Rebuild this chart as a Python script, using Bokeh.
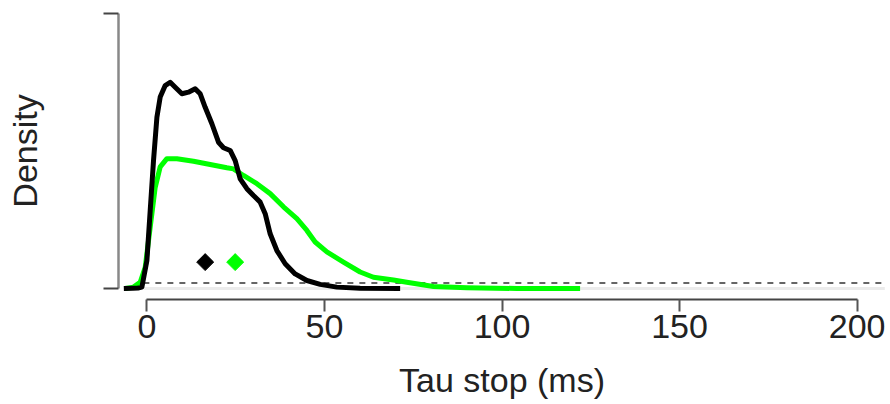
import numpy as np
from bokeh.plotting import figure
from bokeh.models import FixedTicker, Range1d, ColumnDataSource
from bokeh.embed import file_html
from bokeh.resources import INLINE

# Black density curve (Tau stop, ms) - relative density units
black_x = [-6.5, -4.0, -2.5, -1.41, 0.0, 0.93, 1.86, 2.82, 3.74, 5.15, 6.56, 7.97, 9.85,
           11.71, 13.60, 15.01, 16.41, 18.30, 20.16, 21.57, 23.45, 24.86, 26.27,
           28.15, 30.01, 31.90, 33.31, 34.71, 36.60, 38.94, 41.75, 45.05, 48.79,
           53.49, 60.05, 71.32]
black_y = [0.0, 0.001, 0.002, 0.005, 0.102, 0.284, 0.465, 0.623, 0.696, 0.738, 0.750,
           0.732, 0.708, 0.714, 0.726, 0.708, 0.659, 0.599, 0.532, 0.512, 0.502,
           0.465, 0.399, 0.363, 0.338, 0.314, 0.272, 0.199, 0.138, 0.090, 0.053,
           0.029, 0.015, 0.005, 0.001, 0.0]

# Green density curve
green_x = [-6.11, -3.77, -1.89, -0.48, 0.93, 2.34, 3.74, 5.63, 8.45, 13.12, 17.82,
           22.52, 24.38, 27.20, 30.97, 34.71, 38.46, 42.23, 45.05, 47.38, 50.68,
           55.35, 60.05, 63.80, 69.43, 73.20, 80.69, 90.09, 104.17, 121.99]
green_y = [0.0, 0.005, 0.023, 0.077, 0.223, 0.368, 0.442, 0.472, 0.472, 0.463, 0.451,
           0.439, 0.435, 0.411, 0.381, 0.345, 0.297, 0.254, 0.211, 0.169, 0.133,
           0.096, 0.060, 0.041, 0.031, 0.023, 0.007, 0.003, 0.0, 0.0]

# Means (diamonds)
mean_x = [16.41, 24.86]
mean_y = [0.096, 0.096]
mean_colors = ["#000000", "#00ff00"]

threshold_y = 0.02
x_ticks = [0, 50, 100, 150, 200]

p = figure(width=890, height=404, output_backend="svg", toolbar_location=None,
           x_range=Range1d(-8, 208), y_range=Range1d(-0.04, 1.04),
           min_border_left=118, min_border_right=5, min_border_top=2,
           min_border_bottom=105)
p.outline_line_color = None
p.grid.visible = False
p.background_fill_color = "white"
p.border_fill_color = "white"

# baseline and threshold
p.line([-1.0, 207.8], [0, 0], line_color="#ebebeb", line_width=3)
p.line([-1.0, 207.8], [threshold_y, threshold_y], line_color="#333333",
       line_width=1.5, line_dash="6 6")

p.line(green_x, green_y, line_color="#00ff00", line_width=5, line_join="round")
p.line(black_x, black_y, line_color="#000000", line_width=5, line_join="round")

src = ColumnDataSource(dict(x=mean_x, y=mean_y, c=mean_colors))
p.scatter("x", "y", source=src, marker="square", angle=np.pi / 4, size=12,
          fill_color="c", line_color="c")

# x axis
xa = p.xaxis[0]
xa.bounds = (0, 200)
xa.ticker = FixedTicker(ticks=x_ticks)
xa.minor_tick_line_color = None
xa.major_tick_out = 12
xa.major_tick_in = 0
xa.axis_line_color = "#444444"
xa.axis_line_width = 2
xa.major_tick_line_color = "#555555"
xa.major_tick_line_width = 2
xa.major_label_text_font = "Liberation Sans"
xa.major_label_text_font_size = "34px"
xa.major_label_text_color = "#222222"
xa.major_label_standoff = 3
xa.axis_label = "Tau stop (ms)"
xa.axis_label_text_font = "Liberation Sans"
xa.axis_label_text_font_size = "34px"
xa.axis_label_text_font_style = "normal"
xa.axis_label_text_color = "#222222"
xa.axis_label_standoff = 20

# y axis
ya = p.yaxis[0]
ya.bounds = (0, 1)
ya.ticker = FixedTicker(ticks=[0, 1])
ya.major_label_overrides = {0: "", 1: ""}
ya.major_label_text_font_size = "1px"
ya.minor_tick_line_color = None
ya.major_tick_out = 15
ya.major_tick_in = 0
ya.axis_line_color = "#888888"
ya.axis_line_width = 2.5
ya.major_tick_line_color = "#444444"
ya.major_tick_line_width = 2
ya.axis_label = "Density"
ya.axis_label_text_font = "Liberation Sans"
ya.axis_label_text_font_size = "34px"
ya.axis_label_text_font_style = "normal"
ya.axis_label_text_color = "#222222"
ya.axis_label_standoff = 60

open("out.html", "w").write(file_html(p, INLINE))
